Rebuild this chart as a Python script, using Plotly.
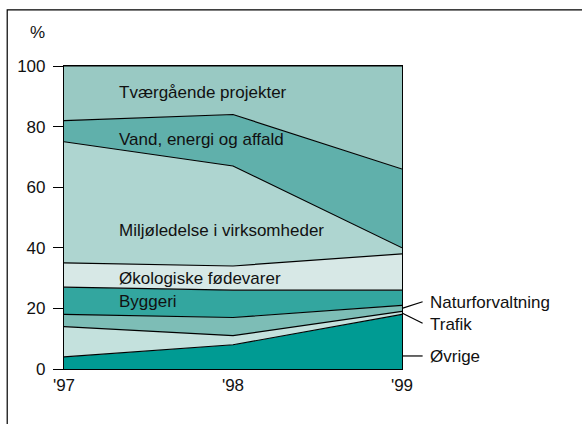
import plotly.graph_objects as go

years = ["'97", "'98", "'99"]
x_pos = [0, 1, 2]
series_names = ["Øvrige", "Trafik", "Naturforvaltning", "Byggeri",
                "Økologiske fødevarer", "Miljøledelse i virksomheder",
                "Vand, energi og affald", "Tværgående projekter"]
ovrige = [4, 8, 18]
trafik = [10, 3, 1]
naturforvaltning = [4, 6, 2]
byggeri = [9, 9, 5]
okologiske = [8, 8, 12]
miljoledelse = [40, 33, 2]
vand = [7, 17, 26]
tvaergaende = [18, 16, 34]
y_ticks = [0, 20, 40, 60, 80, 100]

values = [ovrige, trafik, naturforvaltning, byggeri, okologiske, miljoledelse, vand, tvaergaende]
colors = ["#009b93", "#c4e1dd", "#7dbdb6", "#33a69f", "#d7e8e6", "#aed5d0", "#60b0ab", "#99c9c3"]

fig = go.Figure()
for name, vals, col in zip(series_names, values, colors):
    fig.add_trace(go.Scatter(x=x_pos, y=vals, name=name, stackgroup="one",
                             mode="lines", line=dict(color="black", width=1.2),
                             fillcolor=col, hoverinfo="skip"))

font = "Liberation Sans, Arial, sans-serif"
fsize = 17
tcol = "#111"

# cumulative tops for label anchoring
cum = []
run = [0, 0, 0]
for v in values:
    run = [a + b for a, b in zip(run, v)]
    cum.append(run)

inner_labels = [("Tværgående projekter", 91.3), ("Vand, energi og affald", 75.6),
                ("Miljøledelse i virksomheder", 45.7), ("Økologiske fødevarer", 29.9),
                ("Byggeri", 22.2)]
annotations = []
for txt, yv in inner_labels:
    annotations.append(dict(x=0.157, y=yv, xref="paper", yref="y", text=txt, showarrow=False,
                            xanchor="left", yanchor="middle",
                            font=dict(family=font, size=fsize, color=tcol)))

# right-side labels with leader lines (paper x: 1.0 = '99)
x_end = 1.061
right_labels = [("Naturforvaltning", (cum[1][2] + cum[2][2]) / 2, 22.2),
                ("Trafik", (cum[0][2] + cum[1][2]) / 2, 15.1),
                ("Øvrige", 4.3, 4.3)]
shapes = []
for txt, y0, y1 in right_labels:
    shapes.append(dict(type="line", xref="paper", yref="y", x0=1.0, x1=x_end, y0=y0, y1=y1,
                       line=dict(color="black", width=1.2)))
    annotations.append(dict(x=x_end + 0.017, y=y1 - 0.3, xref="paper", yref="y", text=txt,
                            showarrow=False, xanchor="left", yanchor="middle",
                            font=dict(family=font, size=fsize, color=tcol)))

annotations.append(dict(x=-0.077, y=1.109, xref="paper", yref="paper", text="%",
                        showarrow=False, xanchor="center", yanchor="middle",
                        font=dict(family=font, size=fsize, color=tcol)))

# outer frame
shapes.append(dict(type="rect", xref="paper", yref="paper", x0=-0.168, x1=1.6,
                   y0=-0.5, y1=1.185, line=dict(color="black", width=1.2),
                   fillcolor="rgba(0,0,0,0)", layer="below"))

fig.update_layout(
    width=582, height=424,
    margin=dict(l=64, r=180, t=66, b=55),
    plot_bgcolor="white", paper_bgcolor="white",
    showlegend=False,
    annotations=annotations, shapes=shapes,
    font=dict(family=font, size=fsize, color=tcol),
    xaxis=dict(range=[0, 2], tickvals=x_pos, ticktext=years, showgrid=False,
               zeroline=False, showline=True, linecolor="black", linewidth=1.2,
               mirror=True, ticks="", tickfont=dict(size=fsize)),
    yaxis=dict(range=[0, 100], tickvals=y_ticks, showgrid=False, zeroline=False,
               showline=True, linecolor="black", linewidth=1.2, mirror=True,
               ticks="outside", ticklen=10, tickcolor="black", tickwidth=1.2,
               tickfont=dict(size=fsize), ticklabelstandoff=4),
)

fig.write_html("out.html", config={"displayModeBar": False},
               post_script="document.body.style.margin='0';")
